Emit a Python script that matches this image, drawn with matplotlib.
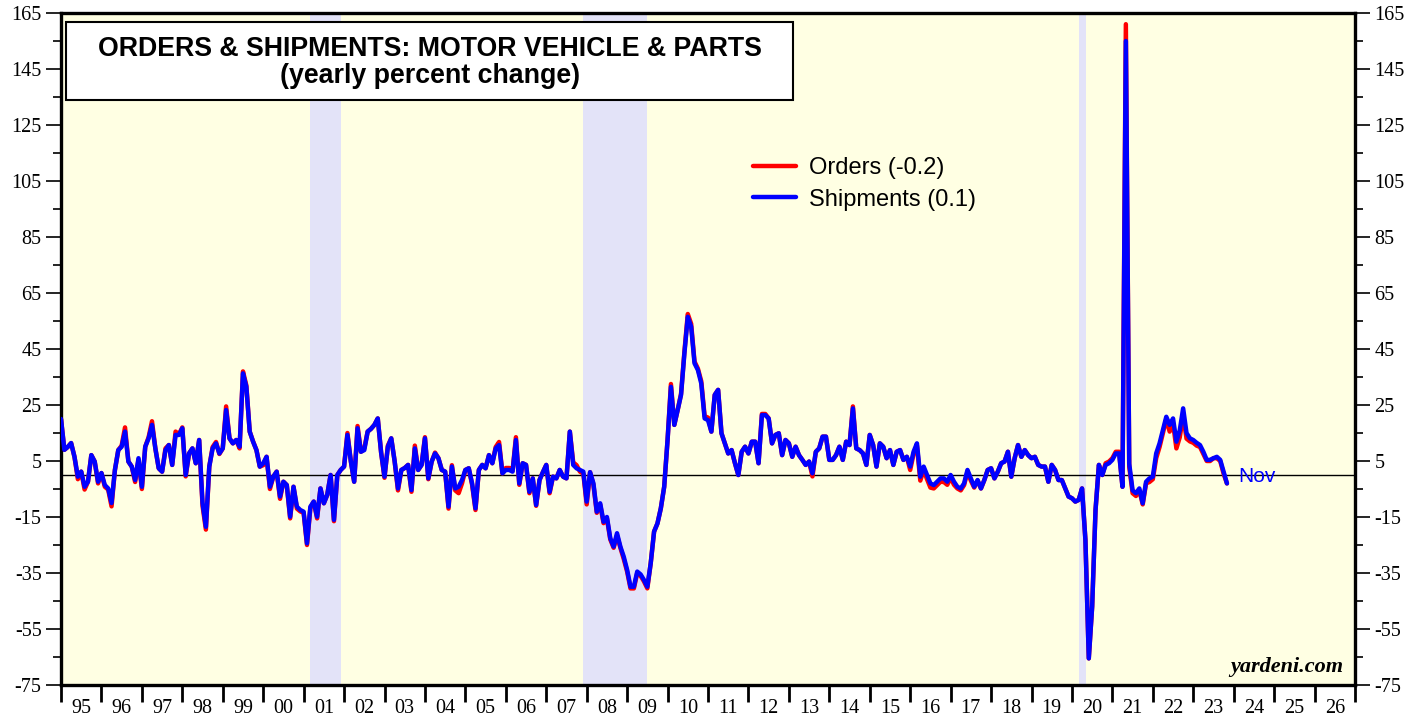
import numpy as np
import matplotlib.pyplot as plt
from matplotlib.ticker import FixedLocator, NullFormatter
import matplotlib.patches as mpatches

plt.rcParams['axes.unicode_minus'] = False

# monthly yearly % change, Jan 1995 .. Nov 2023
shipments = [
    20, 9, 10, 11.4, 6.5, -0.6, 1.2, -4.2, -2.4, 7.1, 4.8, -2.4,
    0.7, -3.6, -4.8, -10, 1.8, 8.9, 10.1, 15.5, 4.8, 3, -1.8, 6,
    -4.2, 10.1, 13.1, 17.9, 9.5, 2.4, 1.2, 8.9, 10.7, 3.6, 14.3, 14.3,
    16.7, 0, 7.7, 9.5, 4.2, 12.5, -10, -18.5, 3, 9.5, 11.3, 7.7,
    9.5, 23.2, 13.1, 11.3, 12.5, 10.1, 36.3, 31.5, 15.5, 11.9, 8.9, 3,
    4.2, 6.5, -4.2, -0.6, 1.2, -7.7, -2.4, -3.6, -14.9, -4.2, -11.3, -12.5,
    -13.1, -24.4, -11.3, -9.5, -14.9, -4.8, -10.1, -7.1, 0, -16, 0, 1.8,
    3, 14.3, 5, -2.4, 16.7, 8.3, 8.9, 15.5, 16.5, 17.9, 20.2, 8,
    -0.6, 10.1, 13.1, 5, -4.8, 1.8, 2.5, 3.6, -5.4, 9.5, 1.8, 3.6,
    13.1, -1.2, 4.8, 7.7, 6, 1.8, 1.2, -11.3, 3, -4.8, -4.2, -1.8,
    1.8, 2.4, -3, -11.9, 1.8, 3.6, 2.4, 7.1, 4.2, 9.5, 10.7, 0.6,
    1.8, 1.8, 1.2, 12.5, -3, 4.2, 3.6, -6, -1.2, -10.7, -1.8, 1,
    3.6, -6, -0.6, -1.2, 1.8, -0.6, -1.2, 15.5, 3.6, 2.4, 1.8, 1.2,
    -9.5, 1, -3, -13.1, -10.1, -16.7, -15, -22.6, -25.6, -20.8, -25.6, -29.2,
    -33.9, -39.9, -39.9, -34.5, -35.5, -37.5, -39.9, -31.5, -20.2, -17.3, -11.9, -4.2,
    12.5, 31.5, 17.9, 23.2, 28.6, 43.5, 56.5, 53, 39.9, 37.5, 32.7, 20.2,
    19.6, 15.5, 28.6, 30.4, 14.9, 11.3, 7.7, 8.9, 4.2, 0, 8.3, 10.1,
    7.7, 11.9, 11.9, 4.2, 21.4, 21.4, 20.2, 11.3, 14.3, 14.9, 7.1, 12.5,
    11.3, 6.5, 10.1, 7.1, 5.4, 3.6, 4.8, 0.6, 8.3, 9.5, 13.7, 13.7,
    5.4, 5.4, 7.1, 10.1, 5.4, 11.9, 10.7, 23.8, 9.5, 8.9, 7.7, 3.6,
    14.3, 10.7, 3, 11.3, 10.1, 6, 8.9, 3.6, 8.3, 8.9, 5.4, 6.5,
    3, 8.3, 11.3, -0.6, 3, 0, -3, -3.6, -2.4, -1.2, -1.2, -2.4,
    0, -2.4, -4.2, -4.8, -3, 1.8, -1.2, -4.2, -1.8, -4.8, -1.8, 1.8,
    2.4, -1.2, 1.2, 4.2, 4.8, 8.3, -0.6, 6, 10.7, 6.5, 8.9, 7.1,
    6, 6.5, 3.6, 3, 3, -2.4, 3.6, 1.8, -1.8, -1.8, -4.8, -7.7,
    -8.3, -9.5, -8.9, -4.8, -23.2, -65.5, -47, -12.5, 3.6, 0, 3.6, 4.2,
    5.4, 7.7, 7.7, -4.2, 155, 4, -5.5, -6.5, -4.8, -10.1, -2.4, -1.2,
    -0.6, 7.7, 11.3, 16, 20.8, 17.9, 20.2, 11.9, 16, 23.8, 15, 13.1,
    12.5, 11.5, 10.7, 8.3, 5.4, 5.4, 6, 6.5, 5.4, 1.2, -3,
]
orders = [
    20, 9, 10, 11.4, 6.5, -1.5, 1.2, -5.2, -2.4, 7.1, 4.8, -3,
    0.7, -4.2, -5.2, -11.2, 1.8, 8.9, 10.5, 17, 4.8, 3, -2.5, 5.5,
    -5, 10.1, 13.5, 19.2, 9.5, 2.4, 1.2, 9.5, 10.7, 3.6, 15.5, 14.5,
    17, -0.5, 7.7, 9.5, 4.2, 12.5, -11, -19.5, 3, 10, 11.8, 7.5,
    9.5, 24.5, 13.1, 11.3, 12.5, 9.5, 37, 32, 15.5, 12, 8.9, 3,
    3.5, 6.5, -5, -0.6, 1.2, -8.5, -2.4, -3.6, -15.5, -4.2, -12, -13,
    -13.5, -25, -11.8, -9.5, -15.5, -4.8, -10.1, -7.1, 0, -16.5, 0, 1.8,
    3, 15, 5, -2.4, 17.5, 8.3, 9.5, 15.5, 16.5, 17.9, 20.2, 8,
    -1, 10.5, 13.1, 5, -5.5, 1.8, 2.5, 3.6, -6, 10.5, 1.8, 3.6,
    13.5, -1.5, 4.8, 8, 6, 1.8, 1.2, -12, 3.5, -5.5, -6.5, -3,
    1.8, 2.4, -3.5, -12.5, 1.8, 3.6, 2.4, 7.1, 4.2, 10, 11.8, 0.6,
    2.5, 2.5, 1.5, 13.5, -3.5, 4.2, 3.6, -6.5, -1.2, -11, -1.8, 1,
    3.6, -6.5, -0.6, -1.2, 1.8, -0.6, -1.2, 15.5, 4.5, 3.5, 1.2, 0.5,
    -10.5, 1, -3.5, -13.5, -10.5, -17.2, -15.5, -23, -26, -21.5, -26, -30,
    -34.5, -40.5, -40.5, -35, -36, -38, -40.5, -31.5, -20.2, -17.3, -11.9, -4.2,
    12.5, 32.5, 17.9, 23.2, 29, 44, 57.5, 54, 40.5, 38, 33.5, 21,
    20.5, 15.5, 28.6, 30.4, 14.9, 11.3, 7.7, 8.9, 4.2, 0, 8.3, 10.1,
    7.7, 11.9, 11.9, 4.2, 21.8, 21.8, 20.2, 11.3, 14.3, 14.9, 7.1, 12.5,
    11.3, 6.5, 10.1, 7.1, 5.4, 3.6, 4.8, -0.5, 8.3, 9.5, 13.7, 13.7,
    5.4, 5.4, 7.1, 10.1, 5.4, 11.9, 10.7, 24.5, 9.5, 8.9, 7.7, 3.6,
    14.3, 10.7, 3, 11.3, 10.1, 6, 8.9, 3.6, 8.3, 8.9, 5.4, 6.5,
    1.8, 7.5, 10.5, -2, 1.8, -1.5, -4.5, -4.8, -3.6, -2.4, -2.5, -3.5,
    -1, -3.5, -4.8, -5.5, -3.6, 1.2, -2, -4.5, -2, -4.8, -1.8, 1.8,
    2.4, -1.2, 1.2, 4.2, 4.8, 8.3, -0.6, 6, 10.7, 6.5, 8.9, 7.1,
    6, 6.5, 3.6, 3, 3, -2.4, 3.6, 1.8, -1.8, -1.8, -4.8, -7.7,
    -8.3, -9.5, -8.9, -4.8, -23.2, -65.5, -47, -12.5, 3.6, 0, 4.2, 4.8,
    6, 8.3, 8.3, -4.2, 161, 3, -6.5, -7.5, -5.5, -10.5, -3, -2.5,
    -1.5, 6, 10, 15, 20, 15.5, 18.5, 9.5, 13.5, 21.5, 13, 12,
    11.5, 10.5, 10, 7.5, 5, 5, 6, 6, 5, 0.5, -3,
]
start_year = 1995
recessions = [(2001.17, 2001.92), (2007.92, 2009.5), (2020.17, 2020.34)]
year_labels = ['%02d' % (y % 100) for y in range(1995, 2027)]
legend_labels = ['Orders (-0.2)', 'Shipments (0.1)']

x = start_year + np.arange(len(shipments)) / 12.0

serif = 'Liberation Serif'
sans = 'Liberation Sans'
bgcolor = '#FFFFE3'
shade = '#E3E3F8'

fig = plt.figure(figsize=(14.26, 7.19), dpi=100)
ax = fig.add_axes([61/1426, 34/719, 1294/1426, 672/719])
ax.set_facecolor(bgcolor)

for r0, r1 in recessions:
    ax.axvspan(r0, r1, color=shade, lw=0, zorder=0.5)
ax.axhline(0, color='black', lw=1.0, zorder=1)

ax.plot(x, orders, color='#FF0000', lw=3.2, solid_joinstyle='round',
        solid_capstyle='round', label=legend_labels[0], zorder=2)
ax.plot(x, shipments, color='#0000FF', lw=3.2, solid_joinstyle='round',
        solid_capstyle='round', label=legend_labels[1], zorder=3)

ax.set_xlim(1995, 2027)
ax.set_ylim(-75, 165)

# y axis both sides
ax.set_yticks(np.arange(-75, 166, 20))
ax.yaxis.set_minor_locator(FixedLocator(np.arange(-65, 166, 20)))
ax.tick_params(axis='y', which='major', direction='out', length=11, width=1.2,
               left=True, right=True, labelleft=True, labelright=True,
               labelsize=14.5, pad=3)
ax.tick_params(axis='y', which='minor', direction='out', length=6, width=1.2,
               left=True, right=True)

# x axis: ticks at year boundaries, labels mid-year
ax.xaxis.set_major_locator(FixedLocator(np.arange(1995, 2028)))
ax.xaxis.set_major_formatter(NullFormatter())
ax.xaxis.set_minor_locator(FixedLocator(np.arange(1995, 2027) + 0.5))
ax.set_xticklabels(year_labels, minor=True)
ax.tick_params(axis='x', which='major', direction='out', length=12, width=2)
ax.tick_params(axis='x', which='minor', length=0, labelsize=14.5, pad=10)

for lbl in ax.get_xticklabels(minor=True) + ax.get_yticklabels():
    lbl.set_family(serif)

for sp in ax.spines.values():
    sp.set_linewidth(2.4)

# title box
box = mpatches.Rectangle((0.0039, 0.8705), 0.5618, 0.1161, transform=ax.transAxes,
                         facecolor='white', edgecolor='black', lw=1.5, zorder=5)
ax.add_patch(box)
ax.text(0.2849, 0.947, 'ORDERS & SHIPMENTS: MOTOR VEHICLE & PARTS',
        transform=ax.transAxes, ha='center', va='center', fontsize=19.3,
        fontweight='bold', family=sans, zorder=6)
ax.text(0.2849, 0.906, '(yearly percent change)', transform=ax.transAxes,
        ha='center', va='center', fontsize=19.3, fontweight='bold',
        family=sans, zorder=6)

leg = ax.legend(loc='upper left', bbox_to_anchor=(0.526, 0.803), frameon=False,
                borderpad=0, handlelength=1.8, handletextpad=0.55,
                labelspacing=0.4, prop={'family': sans, 'size': 17})
for h in leg.get_lines():
    h.set_linewidth(3.2)

ax.annotate('Nov', xy=(x[-1], shipments[-1]), xytext=(8, 5),
            textcoords='offset points', ha='left', va='center',
            color='#0000FF', fontsize=15, family=sans)

ax.text(0.991, 0.012, 'yardeni.com', transform=ax.transAxes, ha='right',
        va='bottom', fontsize=16, fontweight='bold', fontstyle='italic',
        family=serif)

plt.savefig('out.png', dpi=100)
